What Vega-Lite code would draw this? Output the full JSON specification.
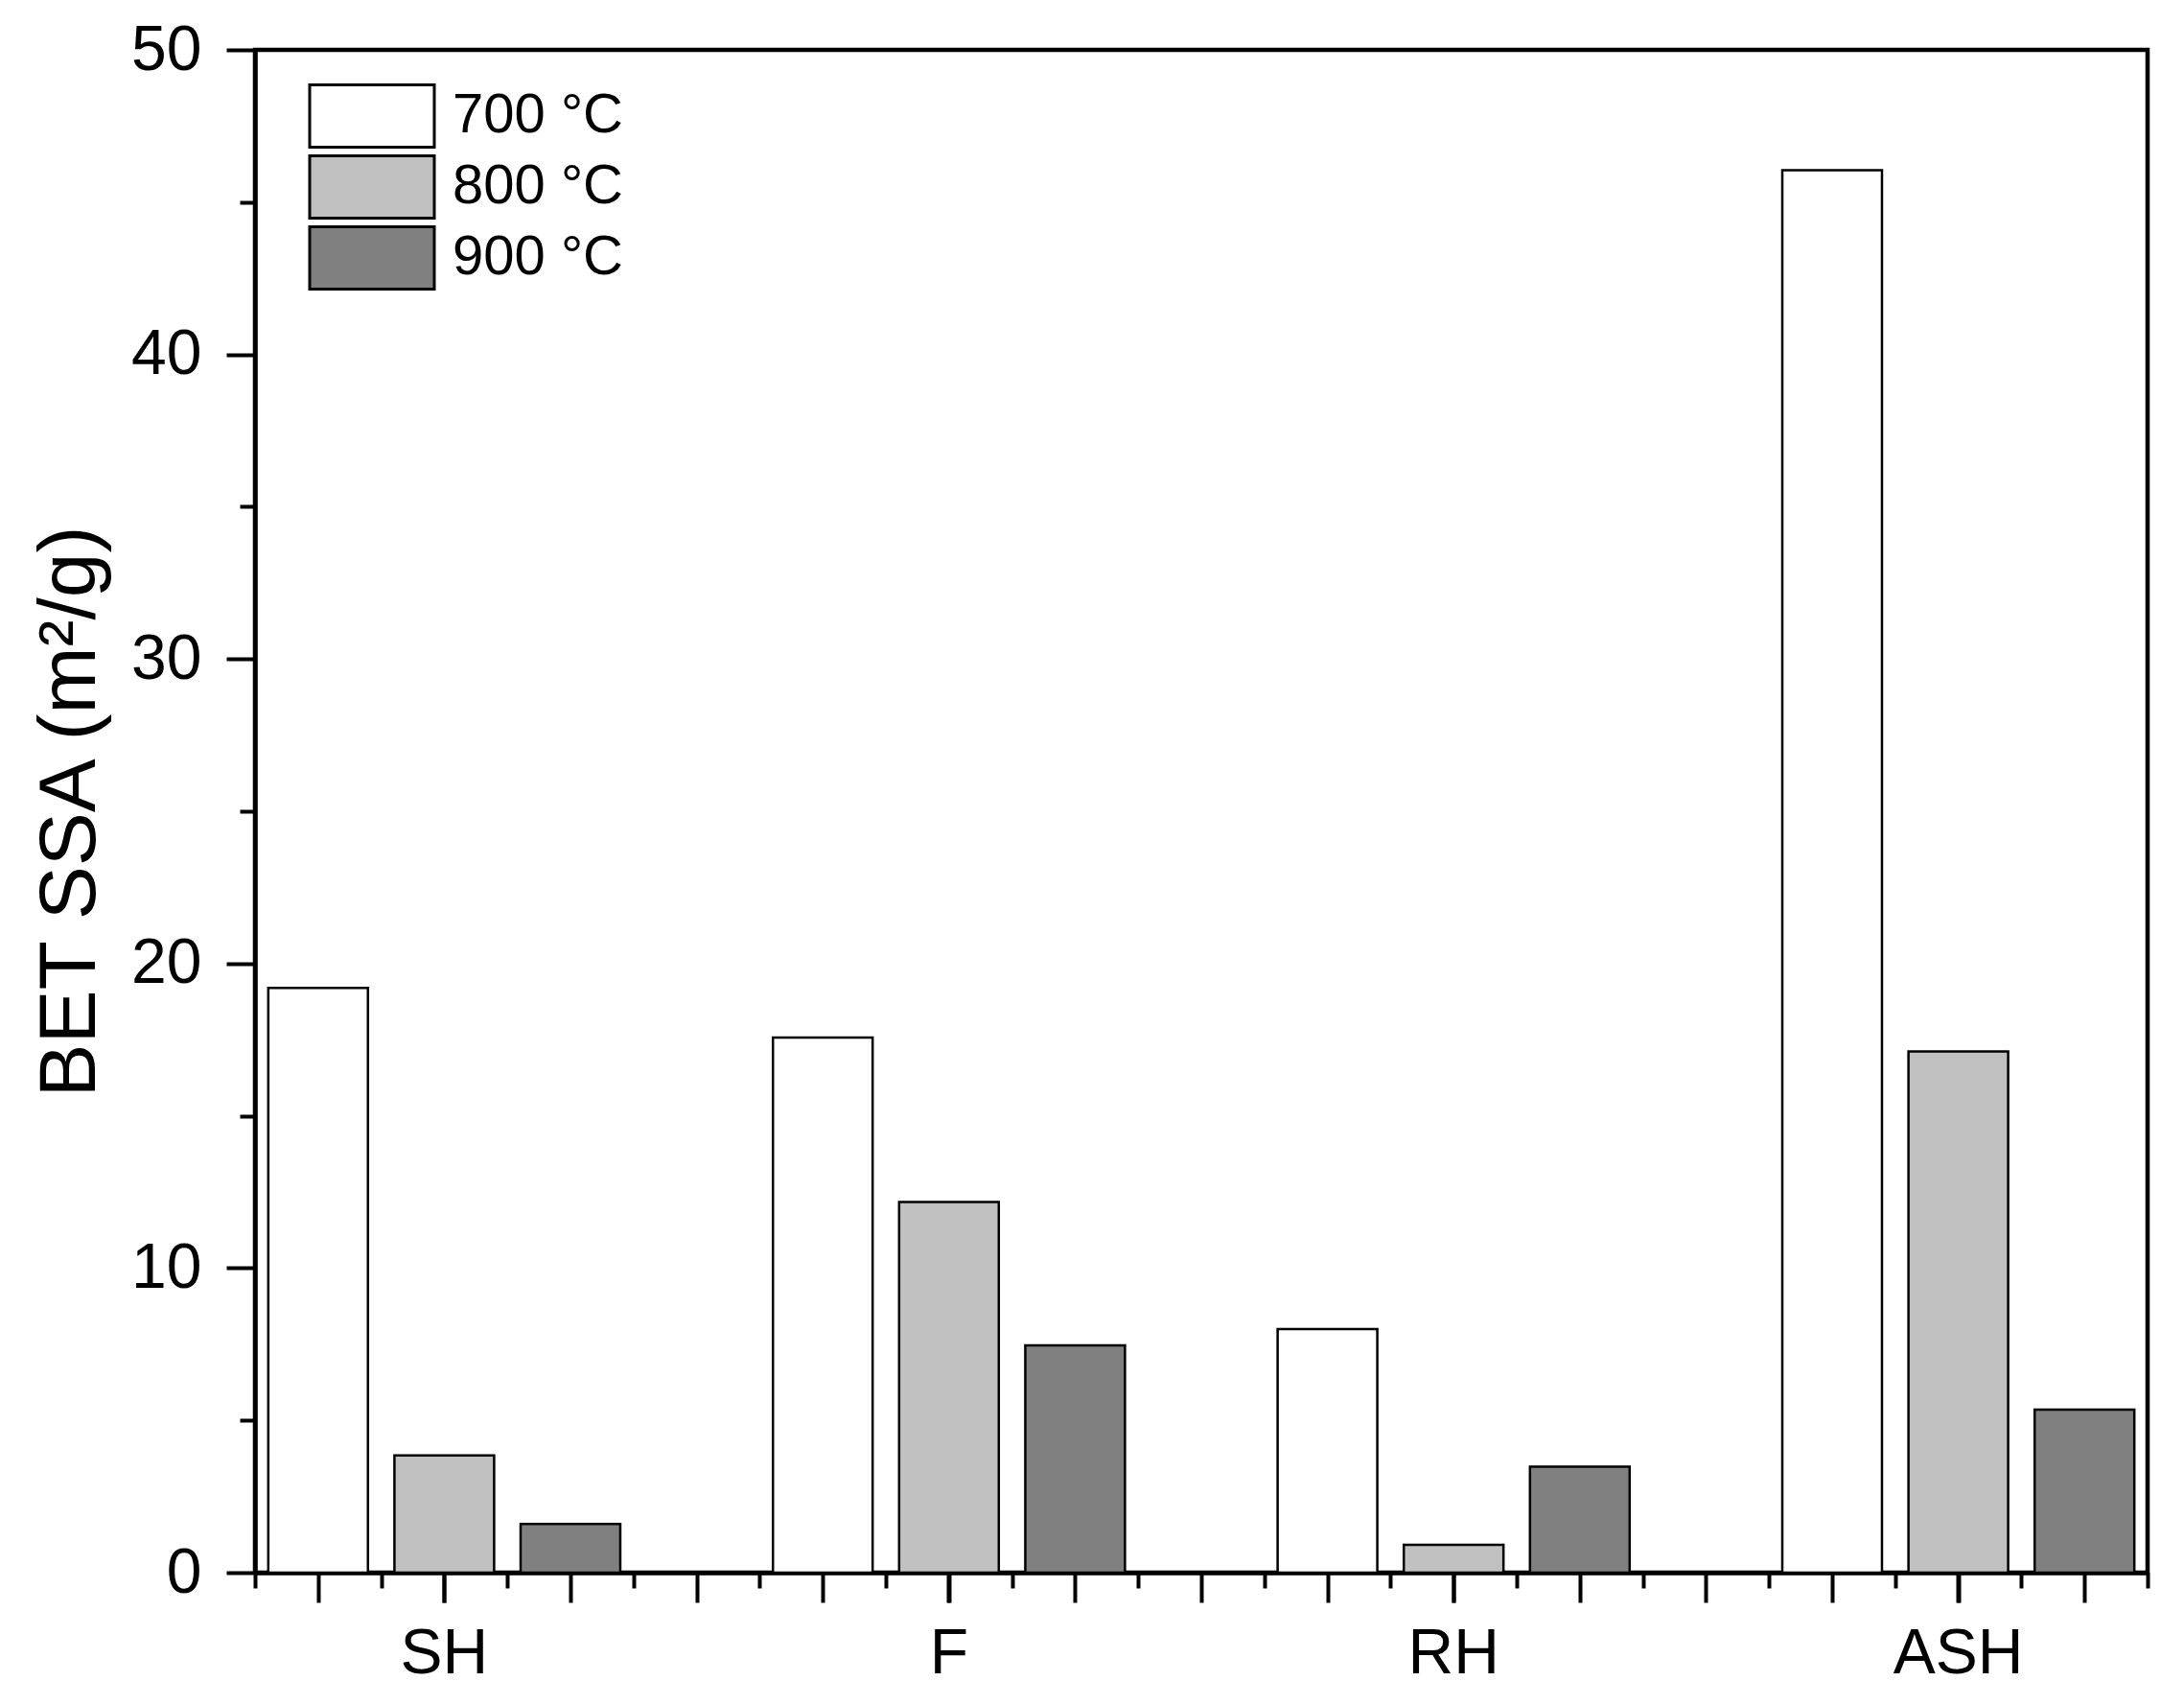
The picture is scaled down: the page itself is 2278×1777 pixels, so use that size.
{
  "$schema": "https://vega.github.io/schema/vega-lite/v6.json",
  "autosize": {"type": "none"},
  "padding": {"left": 266, "top": 52, "right": 38, "bottom": 137},
  "width": 1974,
  "height": 1588,
  "background": "white",
  "config": {
    "view": {"stroke": "black", "strokeWidth": 4.5},
    "font": "Liberation Sans",
    "axis": {
      "grid": false,
      "domainColor": "black",
      "domainWidth": 4.5,
      "tickColor": "black",
      "tickWidth": 4,
      "labelColor": "black",
      "labelFont": "Liberation Sans",
      "labelFontSize": 66,
      "titleFont": "Liberation Sans",
      "titleColor": "black",
      "titleFontWeight": "normal",
      "zindex": 1
    }
  },
  "data": {
    "values": [
      {"sample": "SH", "temp": "700 °C", "ssa": 19.2},
      {"sample": "SH", "temp": "800 °C", "ssa": 3.85},
      {"sample": "SH", "temp": "900 °C", "ssa": 1.6},
      {"sample": "F", "temp": "700 °C", "ssa": 17.57},
      {"sample": "F", "temp": "800 °C", "ssa": 12.17},
      {"sample": "F", "temp": "900 °C", "ssa": 7.46},
      {"sample": "RH", "temp": "700 °C", "ssa": 8.0},
      {"sample": "RH", "temp": "800 °C", "ssa": 0.91},
      {"sample": "RH", "temp": "900 °C", "ssa": 3.48},
      {"sample": "ASH", "temp": "700 °C", "ssa": 46.05},
      {"sample": "ASH", "temp": "800 °C", "ssa": 17.11},
      {"sample": "ASH", "temp": "900 °C", "ssa": 5.35}
    ]
  },
  "layer": [
    {
      "mark": {"type": "bar", "stroke": "black", "strokeWidth": 2.5, "opacity": 1},
      "encoding": {
        "x": {
          "field": "sample",
          "type": "nominal",
          "sort": ["SH", "F", "RH", "ASH"],
          "scale": {"paddingInner": 0.25, "paddingOuter": 0},
          "axis": {"title": null, "orient": "bottom", "labelAngle": 0, "tickSize": 31, "labelPadding": 21}
        },
        "xOffset": {
          "field": "temp",
          "type": "nominal",
          "scale": {"paddingInner": 0.21, "paddingOuter": 0.105}
        },
        "y": {
          "field": "ssa",
          "type": "quantitative",
          "scale": {"domain": [0, 50], "nice": false, "zero": true},
          "axis": {
            "values": [0, 10, 20, 30, 40, 50],
            "tickSize": 30,
            "labelPadding": 26,
            "title": "BET SSA (m²/g)",
            "titleFontSize": 84,
            "titlePadding": 20
          }
        },
        "color": {
          "field": "temp",
          "type": "nominal",
          "scale": {"domain": ["700 °C", "800 °C", "900 °C"], "range": ["#ffffff", "#c0c0c0", "#808080"]},
          "legend": {
            "title": null,
            "orient": "none",
            "legendX": 88,
            "legendY": 35,
            "padding": 0,
            "symbolType": "M-2,-1H2V1H-2Z",
            "symbolSize": 4225,
            "symbolStrokeColor": "black",
            "symbolStrokeWidth": 3,
            "symbolOpacity": 1,
            "labelFont": "Liberation Sans",
            "labelFontSize": 58,
            "labelColor": "black",
            "labelOffset": 50,
            "labelLimit": 0,
            "rowPadding": -4
          }
        }
      }
    },
    {
      "data": {"values": [{}]},
      "mark": {"type": "rule", "opacity": 0},
      "encoding": {
        "x": {
          "datum": 1,
          "type": "quantitative",
          "scale": {"domain": [0.5, 15.5], "nice": false, "zero": false},
          "axis": {"orient": "bottom", "values": [1, 2, 3, 4, 5, 6, 7, 8, 9, 10, 11, 12, 13, 14, 15], "tickSize": 31, "labels": false, "domain": false, "title": null}
        }
      }
    },
    {
      "data": {"values": [{}]},
      "mark": {"type": "rule", "opacity": 0},
      "encoding": {
        "x": {
          "datum": 1,
          "type": "quantitative",
          "scale": {"domain": [0.5, 15.5], "nice": false, "zero": false},
          "axis": {"orient": "bottom", "values": [0.5, 1.5, 2.5, 3.5, 4.5, 5.5, 6.5, 7.5, 8.5, 9.5, 10.5, 11.5, 12.5, 13.5, 14.5, 15.5], "tickSize": 16, "labels": false, "domain": false, "title": null}
        }
      }
    },
    {
      "data": {"values": [{}]},
      "mark": {"type": "rule", "opacity": 0},
      "encoding": {
        "y": {
          "datum": 5,
          "type": "quantitative",
          "scale": {"domain": [0, 50], "nice": false, "zero": false},
          "axis": {"orient": "left", "values": [5, 15, 25, 35, 45], "tickSize": 16, "labels": false, "domain": false, "title": null}
        }
      }
    }
  ],
  "resolve": {"scale": {"x": "independent", "y": "independent"}, "axis": {"x": "independent", "y": "independent"}}
}
